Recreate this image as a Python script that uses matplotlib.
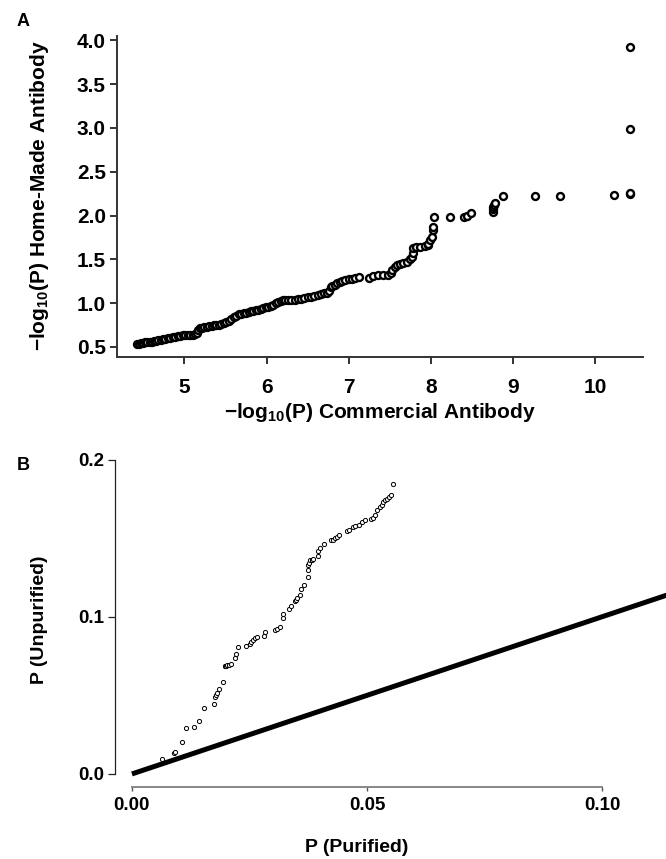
import matplotlib
matplotlib.use("Agg")
import matplotlib.pyplot as plt

plt.rcParams['font.family'] = ['Liberation Sans', 'DejaVu Sans']
plt.rcParams['font.weight'] = 'bold'
plt.rcParams['mathtext.fontset'] = 'custom'
plt.rcParams['mathtext.rm'] = 'Liberation Sans:bold'
plt.rcParams['mathtext.default'] = 'rm'

# panel A: -log10(P), commercial vs home-made antibody
commercial = [4.42, 4.45, 4.47, 4.50, 4.52, 4.55, 4.58, 4.60, 4.63, 4.66,
              4.68, 4.71, 4.74, 4.77, 4.80, 4.83, 4.86, 4.89, 4.92, 4.95,
              4.98, 5.01, 5.04, 5.07, 5.10, 5.13, 5.15,
              5.17, 5.19, 5.21, 5.24, 5.27, 5.30, 5.33, 5.36, 5.39, 5.42,
              5.45, 5.48, 5.51, 5.54, 5.57, 5.60, 5.63, 5.66, 5.69, 5.72,
              5.75, 5.78, 5.81, 5.84, 5.87, 5.90, 5.93, 5.96, 5.99, 6.02,
              6.05, 6.08, 6.11, 6.14, 6.17, 6.20, 6.23,
              6.26, 6.30, 6.34, 6.38, 6.42, 6.46, 6.50, 6.54, 6.58, 6.62,
              6.66, 6.70, 6.73, 6.76, 6.78, 6.80, 6.83, 6.86, 6.89, 6.92,
              6.96, 7.00, 7.04, 7.08, 7.12,
              7.25, 7.30, 7.36, 7.42, 7.48, 7.51, 7.53, 7.56, 7.59, 7.62,
              7.66, 7.71, 7.74, 7.77, 7.78, 7.78, 7.82, 7.87, 7.93, 7.96,
              7.97, 7.99, 8.01, 8.02, 8.03, 8.04,
              8.23, 8.40, 8.44, 8.49, 8.75, 8.76, 8.76, 8.77, 8.78, 8.88,
              9.26, 9.57, 10.23, 10.42, 10.42, 10.42, 10.42]
home_made = [0.53, 0.53, 0.54, 0.54, 0.55, 0.55, 0.56, 0.56, 0.57, 0.57,
             0.58, 0.58, 0.59, 0.59, 0.60, 0.60, 0.61, 0.61, 0.62, 0.62,
             0.63, 0.63, 0.64, 0.64, 0.64, 0.65, 0.66,
             0.69, 0.71, 0.72, 0.73, 0.73, 0.74, 0.74, 0.75, 0.75, 0.75,
             0.76, 0.77, 0.78, 0.80, 0.82, 0.84, 0.85, 0.87, 0.88, 0.89,
             0.89, 0.90, 0.91, 0.91, 0.92, 0.92, 0.93, 0.94, 0.95, 0.96,
             0.97, 0.98, 1.00, 1.01, 1.02, 1.03, 1.04,
             1.04, 1.04, 1.04, 1.05, 1.05, 1.06, 1.07, 1.07, 1.08, 1.09,
             1.10, 1.11, 1.12, 1.14, 1.18, 1.20, 1.21, 1.23, 1.24, 1.25,
             1.26, 1.27, 1.28, 1.29, 1.30,
             1.29, 1.31, 1.32, 1.32, 1.32, 1.34, 1.38, 1.41, 1.43, 1.45,
             1.46, 1.47, 1.50, 1.53, 1.57, 1.63, 1.64, 1.64, 1.65, 1.66,
             1.68, 1.72, 1.76, 1.83, 1.87, 1.98,
             1.98, 1.98, 2.00, 2.03, 2.04, 2.07, 2.10, 2.12, 2.14, 2.22,
             2.22, 2.22, 2.23, 2.24, 2.26, 2.99, 3.93]
a_xticks = [5, 6, 7, 8, 9, 10]
a_yticks = [0.5, 1.0, 1.5, 2.0, 2.5, 3.0, 3.5, 4.0]

# panel B: P purified vs P unpurified
purified = [0.0063, 0.0090, 0.0091, 0.0106, 0.0115, 0.0133, 0.0143, 0.0154, 0.0174, 0.0177,
            0.0179, 0.0181, 0.0185, 0.0193, 0.0197, 0.0199, 0.0201, 0.0203, 0.0206, 0.0211,
            0.0220, 0.0221, 0.0226, 0.0242, 0.0251, 0.0254, 0.0258, 0.0262, 0.0265, 0.0281,
            0.0283, 0.0304, 0.0308, 0.0315, 0.0322, 0.0322, 0.0335, 0.0338, 0.0347, 0.0349,
            0.0352, 0.0357, 0.0359, 0.0365, 0.0374, 0.0375, 0.0375, 0.0376, 0.0379, 0.0383,
            0.0386, 0.0395, 0.0396, 0.0399, 0.0409, 0.0423, 0.0427, 0.0432, 0.0436, 0.0441,
            0.0458, 0.0462, 0.0471, 0.0474, 0.0484, 0.0490, 0.0496, 0.0508, 0.0512, 0.0517,
            0.0521, 0.0528, 0.0531, 0.0535, 0.0539, 0.0542, 0.0546, 0.0550, 0.0555]
unpurified = [0.0094, 0.0136, 0.0138, 0.0202, 0.0295, 0.0297, 0.0338, 0.0418, 0.0444, 0.0492,
              0.0500, 0.0514, 0.0541, 0.0582, 0.0686, 0.0688, 0.0689, 0.0690, 0.0693, 0.0701,
              0.0737, 0.0760, 0.0807, 0.0815, 0.0828, 0.0840, 0.0854, 0.0862, 0.0871, 0.0875,
              0.0900, 0.0917, 0.0920, 0.0934, 0.0992, 0.1019, 0.1049, 0.1066, 0.1098, 0.1105,
              0.1119, 0.1140, 0.1176, 0.1204, 0.1253, 0.1299, 0.1331, 0.1345, 0.1359, 0.1362,
              0.1368, 0.1389, 0.1416, 0.1438, 0.1465, 0.1486, 0.1490, 0.1501, 0.1510, 0.1522,
              0.1543, 0.1550, 0.1571, 0.1580, 0.1586, 0.1600, 0.1613, 0.1622, 0.1630, 0.1650,
              0.1682, 0.1699, 0.1710, 0.1731, 0.1740, 0.1750, 0.1765, 0.1777, 0.1847]
b_xticks = [0.00, 0.05, 0.10]
b_yticks = [0.0, 0.1, 0.2]
diag = [0.0, 0.12]

W, H = 666, 859
fig = plt.figure(figsize=(W / 100, H / 100), dpi=100)

def box(l, t, r, b):
    # pixel box -> figure fraction
    return [l / W, 1 - b / H, (r - l) / W, (b - t) / H]

# ---- A ----
axA = fig.add_axes(box(117, 36, 643, 357))
axA.plot(commercial, home_made, 'o', ms=5.0, mfc='white', mec='black', mew=1.7)
axA.set_xlim(4.18, 10.58)
axA.set_ylim(0.384, 4.05)
axA.set_xticks(a_xticks)
axA.set_yticks(a_yticks)
axA.set_yticklabels(['%.1f' % v for v in a_yticks])
for s in ['top', 'right']:
    axA.spines[s].set_visible(False)
for s in ['left', 'bottom']:
    axA.spines[s].set_linewidth(1.4)
    axA.spines[s].set_color('#333333')
axA.tick_params(axis='both', length=5, width=1.4, color='#333333', labelsize=15)
axA.tick_params(axis='y', pad=3)
axA.tick_params(axis='x', pad=10)
fig.text(380 / W, 1 - 412 / H, '\u2212log$_{10}$(P) Commercial Antibody',
         ha='center', va='center', fontsize=15, fontweight='bold')
fig.text(40 / W, 1 - 196 / H, '\u2212log$_{10}$(P) Home-Made Antibody',
         ha='center', va='center', rotation=90, fontsize=15, fontweight='bold')
fig.text(23 / W, 1 - 22 / H, 'A', ha='center', va='center', fontsize=13, fontweight='bold')

# ---- B ----
axB = fig.add_axes(box(115, 447, 666, 787))
axB.plot(diag, diag, color='black', lw=3.6, solid_capstyle='butt')
axB.plot(purified, unpurified, 'o', ms=3.0, mfc='white', mec='black', mew=0.7)
axB.set_xlim(-0.0036, 0.1136)
axB.set_ylim(-0.0083, 0.208)
axB.set_xticks(b_xticks)
axB.set_yticks(b_yticks)
axB.set_xticklabels(['%.2f' % v for v in b_xticks])
axB.set_yticklabels(['%.1f' % v for v in b_yticks])
for s in ['top', 'right']:
    axB.spines[s].set_visible(False)
axB.spines['left'].set_bounds(0.0, 0.2)
axB.spines['bottom'].set_bounds(0.0, 0.1)
axB.spines['left'].set_color('#222222')
axB.spines['bottom'].set_color('#888888')
axB.spines['left'].set_linewidth(0.9)
axB.spines['bottom'].set_linewidth(1.4)
axB.tick_params(axis='y', length=5, width=0.9, color='#222222', labelsize=13.5, pad=3)
axB.tick_params(axis='x', length=3, width=1.0, color='#555555', labelsize=13.5, pad=4)
fig.text(357 / W, 1 - 848 / H, 'P (Purified)', ha='center', va='center',
         fontsize=14, fontweight='bold')
fig.text(40 / W, 1 - 620 / H, 'P (Unpurified)', ha='center', va='center',
         rotation=90, fontsize=14, fontweight='bold')
fig.text(23 / W, 1 - 466 / H, 'B', ha='center', va='center', fontsize=13, fontweight='bold')

fig.savefig('out.png', dpi=100)
